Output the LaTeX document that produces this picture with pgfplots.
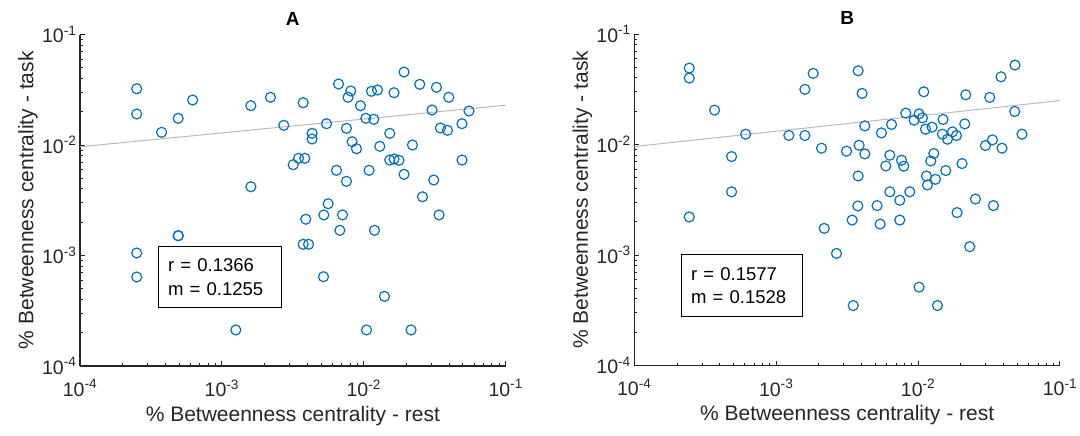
\documentclass[border=0pt]{standalone}
\usepackage{fontspec}
\setmainfont{Liberation Sans}
\usepackage{pgfplots}
\pgfplotsset{compat=1.18}
\definecolor{mblue}{RGB}{0,114,189}
\definecolor{rgray}{RGB}{185,185,185}
\definecolor{axgray}{RGB}{38,38,38}

\begin{document}
\begin{tikzpicture}
\useasboundingbox (0,0) rectangle (1080pt,436pt);

\begin{axis}[at={(80pt,70pt)}, anchor=south west,
  xmode=log, ymode=log, scale only axis, width=425.7pt, height=331.5pt,
  xmin=1e-4, xmax=1e-1, ymin=1e-4, ymax=1e-1,
  axis x line*=bottom, axis y line*=left,
  axis line style={line width=1.3pt, axgray},
  tick align=inside,
  major tick length=5pt, minor tick length=3pt,
  every tick/.append style={axgray, line width=1pt},
  xtick={1e-4,1e-3,1e-2,1e-1}, ytick={1e-4,1e-3,1e-2,1e-1},
  xticklabels={10\textsuperscript{-4},10\textsuperscript{-3},10\textsuperscript{-2},10\textsuperscript{-1}},
  yticklabels={10\textsuperscript{-4},10\textsuperscript{-3},10\textsuperscript{-2},10\textsuperscript{-1}},
  tick label style={font=\fontsize{19.5}{21}\selectfont, text=axgray},
  xticklabel style={yshift=-10pt},
  xlabel={\% Betweenness centrality - rest},
  ylabel={\% Betweenness centrality - task},
  xlabel style={font=\fontsize{21}{24}\selectfont, text=axgray, at={(axis description cs:0.5,-0.151)}, anchor=center},
  ylabel style={font=\fontsize{21}{24}\selectfont, text=axgray, at={(axis description cs:-0.122,0.5)}, anchor=center},
  clip=false]
\addplot[rgray, line width=1pt] coordinates {(1e-4,0.00964) (1e-1,0.02293)};
\addplot[only marks, mark=o, mark size=5pt, mblue, line width=1.2pt] table {
x y
2.51e-4 0.0323
2.51e-4 0.01908
6.22e-4 0.02553
4.92e-4 0.01744
3.76e-4 0.01303
1.60e-3 0.02268
2.20e-3 0.02702
3.74e-3 0.02414
2.73e-3 0.01508
4.32e-3 0.01276
4.32e-3 0.01133
5.46e-3 0.01559
6.64e-3 0.03565
8.10e-3 0.03082
7.75e-3 0.02702
9.48e-3 0.02268
7.55e-3 0.01416
0.01033 0.01744
0.01176 0.01708
0.01133 0.03062
0.01249 0.03146
0.01634 0.02973
0.01922 0.04576
0.02480 0.03541
0.03251 0.03328
0.03969 0.02702
0.03027 0.02074
0.05513 0.02031
0.03468 0.01425
0.03886 0.01358
0.04923 0.01559
0.01524 0.01276
8.27e-3 0.01071
8.88e-3 9.26e-3
0.01297 9.73e-3
0.02203 0.0100
3.18e-3 6.63e-3
3.47e-3 7.58e-3
3.84e-3 7.58e-3
0.01524 7.31e-3
0.01634 7.47e-3
0.01772 7.27e-3
0.04923 7.31e-3
6.42e-3 5.90e-3
0.01090 5.90e-3
7.55e-3 4.69e-3
0.01922 5.43e-3
0.03112 4.82e-3
1.60e-3 4.19e-3
0.02591 3.40e-3
5.61e-3 2.94e-3
5.23e-3 2.33e-3
7.08e-3 2.33e-3
3.90e-3 2.13e-3
6.78e-3 1.69e-3
0.01190 1.69e-3
0.03391 2.33e-3
4.92e-4 1.51e-3
4.93e-4 1.51e-3
2.51e-4 1.054e-3
2.51e-4 6.39e-4
3.74e-3 1.263e-3
4.08e-3 1.263e-3
5.20e-3 6.43e-4
0.01399 4.27e-4
1.254e-3 2.12e-4
0.01045 2.12e-4
0.02153 2.12e-4
};
\node[font=\bfseries\fontsize{19}{21}\selectfont, text=black] at (axis description cs:0.5,1.047) {A};
\node[draw=black, line width=0.9pt, fill=white, anchor=south west, minimum width=123pt, minimum height=61.6pt, text width=103pt, inner xsep=10pt, align=left, font=\fontsize{18.5}{23.3}\selectfont] at (axis description cs:0.1825,0.174) {r = 0.1366\\m = 0.1255};
\end{axis}

\begin{axis}[at={(634.3pt,70.5pt)}, anchor=south west,
  xmode=log, ymode=log, scale only axis, width=425.7pt, height=331.5pt,
  xmin=1e-4, xmax=1e-1, ymin=1e-4, ymax=1e-1,
  axis x line*=bottom, axis y line*=left,
  axis line style={line width=1.3pt, axgray},
  tick align=inside,
  major tick length=5pt, minor tick length=3pt,
  every tick/.append style={axgray, line width=1pt},
  xtick={1e-4,1e-3,1e-2,1e-1}, ytick={1e-4,1e-3,1e-2,1e-1},
  xticklabels={10\textsuperscript{-4},10\textsuperscript{-3},10\textsuperscript{-2},10\textsuperscript{-1}},
  yticklabels={10\textsuperscript{-4},10\textsuperscript{-3},10\textsuperscript{-2},10\textsuperscript{-1}},
  tick label style={font=\fontsize{19.5}{21}\selectfont, text=axgray},
  xticklabel style={yshift=-10pt},
  xlabel={\% Betweenness centrality - rest},
  ylabel={\% Betweenness centrality - task},
  xlabel style={font=\fontsize{21}{24}\selectfont, text=axgray, at={(axis description cs:0.5,-0.151)}, anchor=center},
  ylabel style={font=\fontsize{21}{24}\selectfont, text=axgray, at={(axis description cs:-0.122,0.5)}, anchor=center},
  clip=false]
\addplot[rgray, line width=1pt] coordinates {(1e-4,0.00959) (1e-1,0.02495)};
\addplot[only marks, mark=o, mark size=5pt, mblue, line width=1.2pt] table {
x y
2.44e-4 0.04915
2.44e-4 0.03991
3.68e-4 0.02046
6.09e-4 0.01240
4.85e-4 7.78e-3
4.85e-4 3.73e-3
1.228e-3 0.01207
1.593e-3 0.01207
1.593e-3 0.03152
1.822e-3 0.04401
2.088e-3 9.26e-3
3.13e-3 8.70e-3
3.78e-3 0.04649
4.03e-3 0.02900
4.21e-3 0.01474
3.84e-3 9.85e-3
4.21e-3 8.22e-3
3.78e-3 5.19e-3
5.52e-3 0.01274
6.50e-3 0.01518
6.32e-3 8.00e-3
5.92e-3 6.40e-3
7.64e-3 7.21e-3
7.93e-3 6.36e-3
6.32e-3 3.73e-3
8.74e-3 3.73e-3
8.19e-3 0.01922
9.37e-3 0.01661
0.01016 0.01894
0.01074 0.01742
0.01097 0.02998
0.01127 0.01376
0.01255 0.01435
0.01500 0.01685
0.01485 0.01240
0.01611 0.01117
0.01747 0.01301
0.01864 0.01207
0.02133 0.01537
0.02168 0.02817
0.01290 8.29e-3
0.01229 7.10e-3
0.01146 5.19e-3
0.01326 4.84e-3
0.01165 4.30e-3
0.01567 5.81e-3
0.02041 6.72e-3
0.03198 0.02667
0.03841 0.04101
0.04820 0.05236
0.04797 0.01991
0.05399 0.01240
0.02982 9.79e-3
0.03341 0.01101
0.03903 9.26e-3
0.02537 3.21e-3
7.43e-3 3.13e-3
2.44e-4 2.21e-3
2.18e-3 1.742e-3
3.43e-3 2.07e-3
3.76e-3 2.78e-3
5.14e-3 2.80e-3
5.40e-3 1.905e-3
7.43e-3 2.07e-3
0.01882 2.42e-3
0.03396 2.80e-3
0.02312 1.19e-3
2.66e-3 1.034e-3
0.01016 5.12e-4
3.49e-3 3.49e-4
0.01369 3.49e-4
};
\node[font=\bfseries\fontsize{19}{21}\selectfont, text=black] at (axis description cs:0.5,1.047) {B};
\node[draw=black, line width=0.9pt, fill=white, anchor=south west, minimum width=121.6pt, minimum height=62pt, text width=101.6pt, inner xsep=10pt, align=left, font=\fontsize{18.5}{23.3}\selectfont] at (axis description cs:0.109,0.147) {r = 0.1577\\m = 0.1528};
\end{axis}
\end{tikzpicture}
\end{document}
